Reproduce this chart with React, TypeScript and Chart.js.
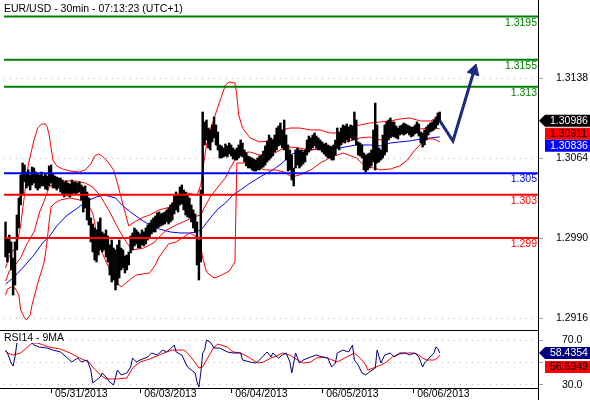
import React, { useEffect, useRef } from 'react';
import { Chart, registerables } from 'chart.js';
Chart.register(...registerables);

// ---------- data ----------
const titleText = 'EUR/USD - 30min - 07:13:23 (UTC+1)';
const rsiTitle = 'RSI14 - 9MA';

const barHigh = [
  1.30049, 1.29901, 1.29928, 1.29864, 1.29716, 1.29864, 1.30113, 1.30271, 1.30483, 1.30594,
  1.30576, 1.30511, 1.30530, 1.30483, 1.30557, 1.30548, 1.30511, 1.30493, 1.30483, 1.30511,
  1.30474, 1.30493, 1.30474, 1.30567, 1.30576, 1.30493, 1.30474, 1.30465, 1.30456, 1.30456,
  1.30437, 1.30419, 1.30428, 1.30409, 1.30400, 1.30437, 1.30419, 1.30419, 1.30409, 1.30419,
  1.30391, 1.30372, 1.30382, 1.30326, 1.30271, 1.30086, 1.30030, 1.29993, 1.29975, 1.30049,
  1.30086, 1.29956, 1.29938, 1.29975, 1.29919, 1.29836, 1.29882, 1.29808, 1.29790, 1.29836,
  1.29882, 1.29808, 1.29790, 1.29734, 1.29743, 1.29771, 1.29919, 1.29947, 1.29993, 1.29975,
  1.29956, 1.29938, 1.29975, 1.29956, 1.29993, 1.30021, 1.30039, 1.30067, 1.30086, 1.30104,
  1.30132, 1.30141, 1.30123, 1.30132, 1.30141, 1.30160, 1.30178, 1.30206, 1.30224, 1.30289,
  1.30326, 1.30298, 1.30372, 1.30391, 1.30345, 1.30326, 1.30298, 1.30271, 1.30206, 1.30160,
  1.30123, 1.30049, 1.29882, 1.30345, 1.31066, 1.30974, 1.30992, 1.30918, 1.30900, 1.30946,
  1.31020, 1.30946, 1.30881, 1.30761, 1.30752, 1.30733, 1.30770, 1.30752, 1.30779, 1.30761,
  1.30733, 1.30715, 1.30733, 1.30761, 1.30807, 1.30779, 1.30715, 1.30687, 1.30659, 1.30650,
  1.30641, 1.30631, 1.30622, 1.30641, 1.30659, 1.30668, 1.30705, 1.30752, 1.30798, 1.30853,
  1.30826, 1.30807, 1.30853, 1.30918, 1.30937, 1.30964, 1.30900, 1.30992, 1.30853, 1.30761,
  1.30715, 1.30668, 1.30548, 1.30715, 1.30733, 1.30715, 1.30715, 1.30696, 1.30715, 1.30807,
  1.30844, 1.30826, 1.30853, 1.30872, 1.30844, 1.30826, 1.30807, 1.30789, 1.30770, 1.30779,
  1.30761, 1.30752, 1.30742, 1.30761, 1.30807, 1.30918, 1.30881, 1.30918, 1.30946, 1.30937,
  1.30955, 1.30927, 1.30946, 1.30937, 1.31066, 1.30992, 1.30789, 1.30779, 1.30761, 1.30687,
  1.30668, 1.30678, 1.30687, 1.30715, 1.30900, 1.31149, 1.30946, 1.30733, 1.30715, 1.30853,
  1.30946, 1.30974, 1.30992, 1.31011, 1.30974, 1.30974, 1.30937, 1.30918, 1.30937, 1.30946,
  1.30964, 1.30955, 1.30946, 1.30937, 1.30927, 1.30927, 1.30946, 1.30974, 1.30955, 1.30881,
  1.30872, 1.30900, 1.30927, 1.30946, 1.30964, 1.30974, 1.30992, 1.31020, 1.31057, 1.31066,
];
const barLow = [
  1.29725, 1.29679, 1.29762, 1.29605, 1.29373, 1.29466, 1.29790, 1.29993, 1.30206, 1.30298,
  1.30419, 1.30363, 1.30382, 1.30345, 1.30391, 1.30409, 1.30363, 1.30345, 1.30363, 1.30382,
  1.30382, 1.30354, 1.30345, 1.30382, 1.30409, 1.30363, 1.30363, 1.30345, 1.30363, 1.30326,
  1.30308, 1.30280, 1.30308, 1.30289, 1.30280, 1.30308, 1.30317, 1.30308, 1.30317, 1.30326,
  1.30252, 1.30141, 1.30178, 1.30067, 1.30021, 1.29864, 1.29771, 1.29697, 1.29679, 1.29743,
  1.29790, 1.29771, 1.29790, 1.29725, 1.29679, 1.29558, 1.29494, 1.29512, 1.29420, 1.29466,
  1.29531, 1.29605, 1.29623, 1.29577, 1.29605, 1.29651, 1.29762, 1.29790, 1.29827, 1.29845,
  1.29808, 1.29808, 1.29836, 1.29827, 1.29845, 1.29882, 1.29901, 1.29938, 1.29956, 1.29956,
  1.29993, 1.30002, 1.30012, 1.30021, 1.30030, 1.30049, 1.30030, 1.30049, 1.30067, 1.30123,
  1.30160, 1.30141, 1.30206, 1.30215, 1.30160, 1.30113, 1.30095, 1.30086, 1.30049, 1.29993,
  1.29956, 1.29651, 1.29512, 1.29679, 1.30298, 1.30761, 1.30807, 1.30733, 1.30715, 1.30789,
  1.30826, 1.30761, 1.30715, 1.30641, 1.30641, 1.30650, 1.30659, 1.30650, 1.30678, 1.30659,
  1.30631, 1.30622, 1.30622, 1.30641, 1.30659, 1.30650, 1.30604, 1.30567, 1.30548, 1.30548,
  1.30530, 1.30520, 1.30520, 1.30530, 1.30530, 1.30548, 1.30557, 1.30576, 1.30604, 1.30622,
  1.30641, 1.30659, 1.30696, 1.30715, 1.30752, 1.30761, 1.30733, 1.30715, 1.30622, 1.30520,
  1.30530, 1.30437, 1.30382, 1.30548, 1.30576, 1.30548, 1.30567, 1.30585, 1.30604, 1.30668,
  1.30696, 1.30715, 1.30733, 1.30752, 1.30733, 1.30715, 1.30715, 1.30696, 1.30678, 1.30659,
  1.30641, 1.30641, 1.30622, 1.30622, 1.30668, 1.30733, 1.30715, 1.30761, 1.30789, 1.30779,
  1.30807, 1.30789, 1.30826, 1.30807, 1.30807, 1.30761, 1.30668, 1.30659, 1.30641, 1.30530,
  1.30511, 1.30530, 1.30548, 1.30567, 1.30604, 1.30530, 1.30594, 1.30604, 1.30622, 1.30641,
  1.30668, 1.30696, 1.30807, 1.30826, 1.30844, 1.30835, 1.30826, 1.30816, 1.30853, 1.30863,
  1.30853, 1.30863, 1.30872, 1.30853, 1.30835, 1.30844, 1.30863, 1.30872, 1.30844, 1.30779,
  1.30742, 1.30761, 1.30807, 1.30853, 1.30881, 1.30890, 1.30900, 1.30918, 1.30946, 1.30974,
];

const upperIdx = [0,2,6,8,10,12,15,17,19,21,22,23,25,27,30,34,39,42,45,47,49,51,54,57,59,62,65,68,73,76,81,87,90,96,101,103,104,106,108,112,116,118,121,122,123,125,129,134,140,143,146,150,155,161,166,171,176,181,187,192,198,203,208,213,219,224,229];
const upperVal = [1.29623,1.29734,1.29836,1.30021,1.30298,1.30576,1.30807,1.30918,1.30955,1.30955,1.30927,1.30853,1.30622,1.30567,1.30539,1.30520,1.30511,1.30530,1.30585,1.30659,1.30678,1.30659,1.30604,1.30530,1.30409,1.30206,1.30012,1.30049,1.30095,1.30113,1.30160,1.30187,1.30298,1.30317,1.30298,1.30391,1.30530,1.30761,1.30900,1.31112,1.31316,1.31344,1.31334,1.31223,1.31038,1.30918,1.30826,1.30789,1.30798,1.30844,1.30900,1.30918,1.30918,1.30900,1.30900,1.30872,1.30872,1.30927,1.30946,1.30964,1.30974,1.30983,1.31001,1.31011,1.30983,1.30983,1.31020];

const middleIdx = [0,2,5,8,11,15,18,21,23,26,31,37,42,46,50,55,59,64,67,73,78,81,85,90,96,99,103,105,108,112,116,118,121,124,129,134,140,145,150,155,161,166,171,176,181,187,192,198,203,208,213,219,224,229];
const middleVal = [1.29503,1.29595,1.29651,1.29716,1.29836,1.29956,1.30141,1.30271,1.30372,1.30409,1.30428,1.30428,1.30409,1.30372,1.30289,1.30141,1.30002,1.29854,1.29790,1.29808,1.29854,1.29910,1.29975,1.30021,1.30067,1.30095,1.30113,1.30187,1.30280,1.30372,1.30456,1.30530,1.30622,1.30687,1.30696,1.30668,1.30668,1.30715,1.30742,1.30733,1.30715,1.30733,1.30742,1.30770,1.30798,1.30826,1.30835,1.30807,1.30835,1.30863,1.30890,1.30909,1.30918,1.30911];

const lowerIdx = [0,1,3,5,7,8,10,11,13,14,17,20,21,22,23,24,26,29,34,39,43,46,48,51,55,59,61,66,69,76,79,81,86,90,94,97,101,103,104,106,110,113,118,121,122,126,132,137,142,147,151,155,161,166,171,175,178,181,185,189,194,198,203,208,212,215,219,222,226,229];
const lowerVal = [1.29373,1.29429,1.29447,1.29438,1.29373,1.29235,1.29161,1.29142,1.29188,1.29281,1.29484,1.29651,1.29743,1.29882,1.30049,1.30187,1.30224,1.30252,1.30271,1.30252,1.30224,1.30132,1.29947,1.29762,1.29605,1.29484,1.29447,1.29521,1.29558,1.29577,1.29651,1.29725,1.29845,1.29864,1.29910,1.29947,1.29910,1.29817,1.29716,1.29586,1.29531,1.29549,1.29595,1.29679,1.30594,1.30594,1.30557,1.30530,1.30530,1.30511,1.30465,1.30483,1.30530,1.30594,1.30641,1.30668,1.30687,1.30668,1.30641,1.30576,1.30548,1.30530,1.30539,1.30567,1.30622,1.30696,1.30770,1.30816,1.30816,1.30789];

const maIdx = [0,4,9,15,20,23,27,32,38,43,48,52,58,62,66,71,76,81,87,92,97,101,104,108,112,116,120,124,129,136,141,146,150,155,161,166,174,179,185,192,198,203,208,213,219,224,229];
const maVal = [1.29475,1.29531,1.29623,1.29743,1.29864,1.29910,1.30012,1.30104,1.30178,1.30243,1.30280,1.30298,1.30271,1.30197,1.30141,1.30076,1.30021,1.29984,1.29956,1.29947,1.29947,1.29956,1.29993,1.30086,1.30169,1.30224,1.30298,1.30345,1.30409,1.30483,1.30530,1.30594,1.30668,1.30705,1.30715,1.30724,1.30724,1.30742,1.30761,1.30761,1.30752,1.30779,1.30789,1.30798,1.30816,1.30826,1.30836];

const rsiIdx = [0,1,3,4,5,6,8,10,12,13,14,15,18,22,25,29,32,35,38,40,43,45,46,48,50,51,53,55,57,59,61,64,66,67,69,71,75,77,80,83,85,88,89,90,93,96,98,100,101,102,103,104,105,106,108,110,113,117,120,124,125,129,132,134,138,140,141,144,146,148,150,151,153,155,157,161,164,167,170,172,174,175,178,181,183,184,186,188,190,192,195,196,198,200,203,205,208,211,213,216,218,220,221,224,226,227,228,229];
const rsiVal = [61.0,58.4,49.4,46.7,54.8,67.3,78,82,80,75,67.3,65.5,63.7,62.8,61.0,59.3,54.8,50.3,53.9,50.3,52.1,43.1,31.5,34.2,36.9,40.5,36.9,32.4,29.7,43.1,38.7,40.5,45.8,53.9,50.3,52.1,54.8,58.4,56.6,61.0,59.3,63.7,65.5,59.3,56.6,45.8,43.1,40.5,32.4,27.9,40.5,58.4,61.0,70.0,68.2,62.8,62.8,59.3,58.4,58.4,52.1,50.3,49.4,52.1,59.3,54.8,58.4,53.9,56.6,58.4,50.3,40.5,58.4,49.4,52.1,54.8,56.6,54.8,53.9,45.8,49.4,58.4,61.0,59.3,65.5,52.1,47.6,40.5,38.7,41.4,44.9,61.0,49.4,56.6,58.4,54.8,58.4,58.4,56.6,58.4,54.8,45.8,49.4,54.8,58.4,63.7,62.5,58.4354];

const rsiMaIdx = [0,1,4,8,11,14,17,23,29,34,39,44,46,50,53,59,64,67,71,76,81,85,88,94,96,99,102,104,106,110,112,117,120,124,129,133,136,140,143,146,150,154,157,161,164,168,171,175,178,182,184,187,190,191,194,198,201,204,208,212,215,218,220,222,226,228,229];
const rsiMaVal = [60.2,58.4,56.6,58.4,62.8,67.3,67.3,63.7,61.9,58.4,53.9,50.3,45.8,38.7,35.1,35.1,36.0,44.9,50.3,53.0,56.6,59.3,61.0,61.0,58.4,52.1,44.9,45.8,52.1,63.7,66.4,63.7,59.3,58.4,53.9,49.4,50.3,53.9,55.7,58.4,56.6,52.1,49.4,50.3,53.9,54.8,53.0,50.3,53.0,56.6,58.4,53.9,47.6,43.1,44.9,47.6,50.3,54.8,57.5,58.4,58.4,56.6,53.9,52.1,52.1,53.9,56.6949];

const levels = [1.3195, 1.3155, 1.313, 1.305, 1.303, 1.299];
const levelLabels = ['1.3195', '1.3155', '1.313', '1.305', '1.303', '1.299'];
const levelColors = ['#008000', '#008000', '#008000', '#0000ff', '#ff0000', '#ff0000'];

const priceTicks = [1.2916, 1.299, 1.3064, 1.3138];
const rsiTicks = [30, 50, 70];
const dayTickIdx = [24, 71, 119, 167, 215];
const dayLabels = ['05/31/2013', '06/03/2013', '06/04/2013', '06/05/2013', '06/06/2013'];

const projIdx = [229, 236, 247.1];
const projVal = [1.30986, 1.30798, 1.31448];

const lastClose = 1.30986;
const lastMid = 1.30911;
const lastMa = 1.30836;
const lastRsi = 58.4354;
const lastRsiMa = 56.6949;

// ---------- helpers ----------
const FONT_FAMILY = '"Liberation Sans", Arial, Helvetica, sans-serif';
const FONT_SIZE = 10.5;
const X_MIN = -0.8;
const X_MAX = 280.85;

const toXY = (idx: number[], val: number[]) => idx.map((x, k) => ({ x, y: val[k] }));

function drawBadge(ctx: CanvasRenderingContext2D, text: string, top: number, bg: string, fg: string, arrow: boolean, axisX: number, right: number) {
  const h = 12;
  const left = axisX + 7;
  ctx.fillStyle = bg;
  ctx.beginPath();
  if (arrow) {
    ctx.moveTo(axisX + 1, top + h / 2);
    ctx.lineTo(left, top);
    ctx.lineTo(right, top);
    ctx.lineTo(right, top + h);
    ctx.lineTo(left, top + h);
    ctx.closePath();
  } else {
    ctx.rect(left, top, right - left, h);
  }
  ctx.fill();
  ctx.fillStyle = fg;
  ctx.textAlign = 'left';
  ctx.textBaseline = 'middle';
  ctx.fillText(text, left + 5, top + h / 2 + 0.5);
}

const mainDecor = {
  id: 'mainDecor',
  afterDraw(chart: any) {
    const { ctx, chartArea, scales } = chart;
    const ys = scales.y;
    ctx.save();
    ctx.font = `${FONT_SIZE}px ${FONT_FAMILY}`;
    ctx.fillStyle = '#000';
    ctx.textAlign = 'left';
    ctx.textBaseline = 'alphabetic';
    ctx.fillText(titleText, 4, 11.5);
    ctx.textAlign = 'right';
    levels.forEach((lv, k) => {
      const py = ys.getPixelForValue(lv);
      ctx.fillStyle = levelColors[k];
      ctx.fillText(levelLabels[k], chartArea.right - 1, py + 9.3);
    });
    const axisX = chartArea.right;
    const r = chart.width;
    const t1 = ys.getPixelForValue(lastClose) - 6;
    drawBadge(ctx, lastClose.toFixed(5), t1, '#000000', '#ffffff', true, axisX, r);
    const t2 = Math.max(ys.getPixelForValue(lastMid) - 6, t1 + 13);
    drawBadge(ctx, lastMid.toFixed(5), t2, '#ff0000', '#000000', false, axisX, r);
    const t3 = Math.max(ys.getPixelForValue(lastMa) - 6, t2 + 12);
    drawBadge(ctx, lastMa.toFixed(5), t3, '#0000ff', '#ffffff', false, axisX, r);
    ctx.restore();
  },
};

const rsiDecor = {
  id: 'rsiDecor',
  afterDatasetsDraw(chart: any) {
    const { ctx } = chart;
    ctx.save();
    ctx.fillStyle = '#ffffff';
    ctx.fillRect(0, 1, 66, 12);
    ctx.font = `${FONT_SIZE}px ${FONT_FAMILY}`;
    ctx.fillStyle = '#000';
    ctx.textAlign = 'left';
    ctx.textBaseline = 'alphabetic';
    ctx.fillText(rsiTitle, 4, 11);
    ctx.restore();
  },
  afterDraw(chart: any) {
    const { ctx, chartArea, scales } = chart;
    const ys = scales.y;
    ctx.save();
    ctx.fillStyle = '#000';
    ctx.fillRect(0, 0, chartArea.right, 1);
    ctx.fillRect(0, Math.floor(chartArea.bottom), chartArea.left, 1);
    ctx.fillRect(chartArea.right, chartArea.bottom, 1, chart.height - chartArea.bottom);
    ctx.font = `${FONT_SIZE}px ${FONT_FAMILY}`;
    const axisX = chartArea.right;
    const r = chart.width;
    const t1 = ys.getPixelForValue(lastRsi) - 6;
    drawBadge(ctx, lastRsi.toFixed(4), t1, '#000080', '#ffffff', true, axisX, r);
    const t2 = Math.max(ys.getPixelForValue(lastRsiMa) - 6, t1 + 14);
    drawBadge(ctx, lastRsiMa.toFixed(4), t2, '#ff0000', '#000000', false, axisX, r);
    ctx.restore();
  },
};

const lineDs = (label: string, data: any[], color: string, order: number, width = 1) => ({
  type: 'line' as const,
  label,
  data,
  borderColor: color,
  borderWidth: width,
  pointRadius: 0,
  tension: 0,
  fill: false,
  order,
});

export default function App() {
  const topRef = useRef<HTMLCanvasElement>(null);
  const botRef = useRef<HTMLCanvasElement>(null);

  useEffect(() => {
    document.body.style.margin = '0';
    Chart.defaults.font.family = FONT_FAMILY;
    Chart.defaults.font.size = FONT_SIZE;
    const font = { family: FONT_FAMILY, size: FONT_SIZE };

    const levelSets = levels.map((lv, k) =>
      lineDs('L' + levelLabels[k], [{ x: X_MIN, y: lv }, { x: X_MAX, y: lv }], levelColors[k], 1, 2)
    );

    const main = new Chart(topRef.current as HTMLCanvasElement, {
      type: 'line',
      data: {
        datasets: [
          lineDs('Upper', toXY(upperIdx, upperVal), '#ff0000', 3),
          lineDs('Middle', toXY(middleIdx, middleVal), '#ff0000', 3),
          lineDs('Lower', toXY(lowerIdx, lowerVal), '#ff0000', 3),
          lineDs('MA', toXY(maIdx, maVal), '#0000ff', 3),
          {
            type: 'bar' as const,
            label: 'EURUSD',
            data: barHigh.map((h, i) => ({ x: i, y: [barLow[i], h] })),
            backgroundColor: '#000000',
            borderWidth: 0,
            barThickness: 1.8,
            order: 2,
          } as any,
          ...levelSets,
          {
            type: 'line' as const,
            label: 'Projection',
            data: toXY(projIdx, projVal),
            borderColor: '#1c2a80',
            borderWidth: 3,
            pointRadius: [0, 0, 7],
            pointStyle: 'triangle',
            pointRotation: 17,
            pointBackgroundColor: '#1c2a80',
            pointBorderColor: '#1c2a80',
            pointBorderWidth: 1,
            tension: 0,
            order: 0,
          } as any,
        ],
      },
      options: {
        responsive: false,
        animation: false,
        events: [],
        layout: { autoPadding: false, padding: { left: 4, right: 0, top: 0, bottom: 0 } },
        plugins: { legend: { display: false }, tooltip: { enabled: false }, title: { display: false } },
        scales: {
          x: { type: 'linear', min: X_MIN, max: X_MAX, display: false, offset: false, grid: { offset: false } },
          y: {
            type: 'linear',
            position: 'right',
            min: 1.290495,
            max: 1.32102,
            beginAtZero: false,
            afterBuildTicks: (s: any) => { s.ticks = priceTicks.map((v) => ({ value: v })); },
            afterFit: (s: any) => { s.width = 52; s.paddingTop = 0; s.paddingBottom = 0; },
            ticks: { callback: (v: any) => Number(v).toFixed(4), color: '#000', font, padding: 13, autoSkip: false },
            grid: { color: '#b4b4b4', tickColor: '#a0a0a0', tickLength: 5, lineWidth: 1 },
            border: { color: '#000', width: 1, dash: [1, 5] },
          },
        },
      } as any,
      plugins: [mainDecor],
    });

    const rsi = new Chart(botRef.current as HTMLCanvasElement, {
      type: 'line',
      data: {
        datasets: [
          lineDs('RSI14', toXY(rsiIdx, rsiVal), '#000080', 1),
          lineDs('9MA', toXY(rsiMaIdx, rsiMaVal), '#ff0000', 2),
        ],
      },
      options: {
        responsive: false,
        animation: false,
        events: [],
        layout: { autoPadding: false, padding: { left: 4, right: 0, top: 0, bottom: 0 } },
        plugins: { legend: { display: false }, tooltip: { enabled: false }, title: { display: false } },
        scales: {
          x: {
            type: 'linear',
            position: 'bottom',
            min: X_MIN,
            max: X_MAX,
            offset: false,
            afterBuildTicks: (s: any) => { s.ticks = dayTickIdx.map((v) => ({ value: v })); },
            afterFit: (s: any) => { s.height = 12; s.paddingLeft = 0; s.paddingRight = 0; },
            ticks: {
              autoSkip: false,
              maxRotation: 0,
              minRotation: 0,
              align: 'start',
              labelOffset: 4,
              padding: -5,
              color: '#000',
              font,
              callback: (v: any) => {
                const k = dayTickIdx.indexOf(Number(v));
                return k >= 0 ? dayLabels[k] : '';
              },
            },
            grid: { drawOnChartArea: false, drawTicks: true, tickLength: 5, tickColor: '#000', color: '#000', offset: false },
            border: { color: '#000', width: 1 },
          },
          y: {
            type: 'linear',
            position: 'right',
            min: 27,
            max: 79,
            afterBuildTicks: (s: any) => { s.ticks = rsiTicks.map((v) => ({ value: v })); },
            afterFit: (s: any) => { s.width = 52; s.paddingTop = 0; s.paddingBottom = 0; },
            ticks: { callback: (v: any) => (Number(v) === 50 ? '' : Number(v).toFixed(1)), padding: 19, color: '#000', font },
            grid: { color: '#b4b4b4', tickColor: '#a0a0a0', tickLength: 5 },
            border: { color: '#000', width: 1, dash: [1, 5] },
          },
        },
      } as any,
      plugins: [rsiDecor],
    });

    return () => {
      main.destroy();
      rsi.destroy();
    };
  }, []);

  return (
    <div style={{ width: 590, height: 400, background: '#ffffff' }}>
      <canvas ref={topRef} width={590} height={330} style={{ display: 'block' }} />
      <canvas ref={botRef} width={590} height={70} style={{ display: 'block' }} />
    </div>
  );
}
